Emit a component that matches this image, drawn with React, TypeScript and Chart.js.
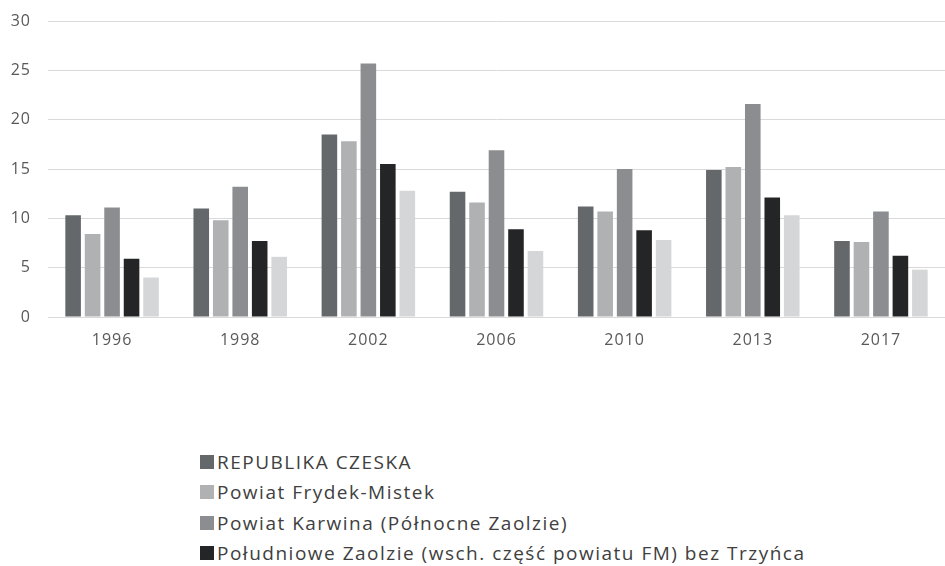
import React, { useEffect, useRef } from "react";
import { Chart, registerables } from "chart.js";

Chart.register(...registerables);

const years = ["1996", "1998", "2002", "2006", "2010", "2013", "2017"];
const seriesNames = [
  "REPUBLIKA CZESKA",
  "Powiat Frydek-Mistek",
  "Powiat Karwina (Północne Zaolzie)",
  "Południowe Zaolzie (wsch. część powiatu FM) bez Trzyńca",
  "Trzyniec",
];
const republika = [10.3, 11.0, 18.5, 12.7, 11.2, 14.9, 7.7];
const frydekMistek = [8.4, 9.8, 17.8, 11.6, 10.7, 15.2, 7.6];
const karwina = [11.1, 13.2, 25.7, 16.9, 15.0, 21.6, 10.7];
const poludniowe = [5.9, 7.7, 15.5, 8.9, 8.8, 12.1, 6.2];
const trzyniec = [4.0, 6.1, 12.8, 6.7, 7.8, 10.3, 4.8];
const seriesValues = [republika, frydekMistek, karwina, poludniowe, trzyniec];
const colors = ["#65686a", "#b0b1b3", "#8c8d91", "#242527", "#d5d6d7"];
const yTicks = [0, 5, 10, 15, 20, 25, 30];

const FONT = '"Open Sans", "DejaVu Sans", sans-serif';

const spacingPlugin = {
  id: "letterSpacing",
  beforeDraw: (chart: any) => {
    try {
      chart.ctx.letterSpacing = "1px";
    } catch (e) {}
  },
};

export default function App() {
  const ref = useRef<HTMLCanvasElement | null>(null);

  useEffect(() => {
    if (!ref.current) return;
    const chart = new Chart(ref.current, {
      type: "bar",
      data: {
        labels: years,
        datasets: seriesValues.map((vals, i) => ({
          label: seriesNames[i],
          data: vals,
          backgroundColor: colors[i],
          borderWidth: 0,
          categoryPercentage: 0.76,
          barPercentage: 0.8,
        })),
      },
      plugins: [spacingPlugin],
      options: {
        animation: false,
        responsive: false,
        maintainAspectRatio: false,
        layout: { padding: { top: 21, right: 0, bottom: 0, left: 0 } },
        plugins: {
          legend: { display: false },
          tooltip: { enabled: false },
          title: { display: false },
        },
        scales: {
          x: {
            grid: { display: false, drawTicks: false },
            border: { display: true, color: "#d9d9d9", width: 1 },
            ticks: {
              color: "#595959",
              font: { family: FONT, size: 16 },
              padding: 14,
            },
            afterFit: (s: any) => {
              s.height = 43;
              s.paddingLeft = 0;
              s.paddingRight = 0;
            },
          },
          y: {
            min: 0,
            max: 30,
            afterBuildTicks: (s: any) => {
              s.ticks = yTicks.map((v) => ({ value: v }));
            },
            grid: { color: "#d9d9d9", lineWidth: 1, drawTicks: false },
            border: { display: false },
            ticks: {
              color: "#595959",
              font: { family: FONT, size: 16 },
              padding: 17,
            },
            afterFit: (s: any) => {
              s.width = 48;
              s.paddingTop = 0;
              s.paddingBottom = 0;
            },
          },
        },
      },
    });
    return () => chart.destroy();
  }, []);

  return (
    <div
      style={{
        position: "absolute",
        left: 0,
        top: 0,
        width: 945,
        height: 566,
        overflow: "hidden",
        background: "#fff",
      }}
    >
      <canvas
        ref={ref}
        width={945}
        height={360}
        style={{ position: "absolute", left: 0, top: 0, width: 945, height: 360 }}
      />
      <div style={{ position: "absolute", left: 200, top: 447 }}>
        {seriesNames.map((name, i) => (
          <div
            key={name}
            style={{
              display: "flex",
              alignItems: "center",
              height: 30.3,
              fontFamily: FONT,
              fontSize: 19,
              letterSpacing: "1.5px",
              color: "#404040",
              whiteSpace: "nowrap",
            }}
          >
            <span
              style={{
                display: "inline-block",
                width: 14,
                height: 14,
                background: colors[i],
                marginRight: 3,
                flexShrink: 0,
              }}
            />
            {name}
          </div>
        ))}
      </div>
    </div>
  );
}
